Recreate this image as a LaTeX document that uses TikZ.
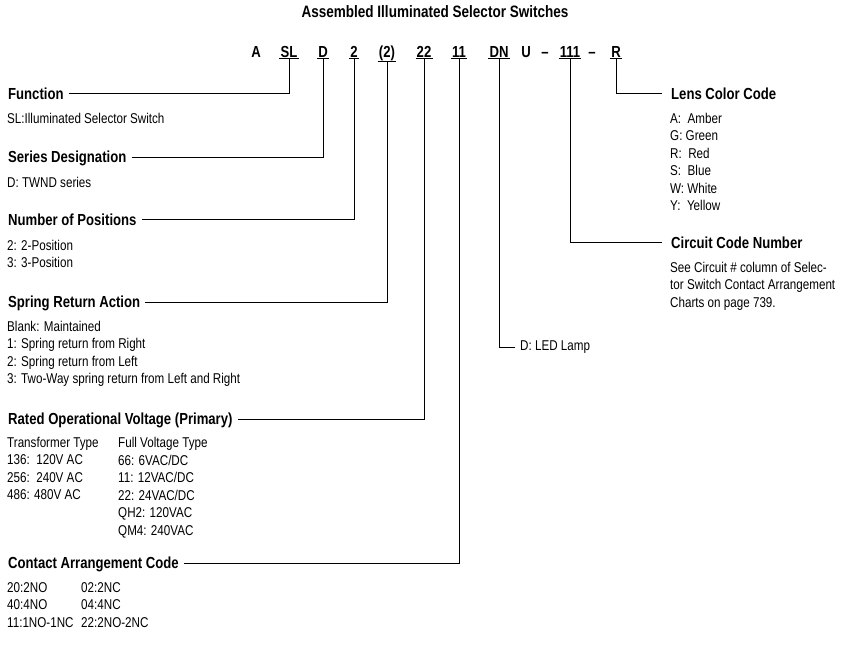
\documentclass[tikz,border=0pt]{standalone}
\usepackage{fontspec}
\setmainfont[FakeStretch=0.82]{Liberation Sans}
\usetikzlibrary{positioning}

\begin{document}
\begin{tikzpicture}[
    x=1pt, y=-1pt,
    code/.style={font=\bfseries\fontsize{16}{18}\selectfont, inner sep=1pt, anchor=base},
    head/.style={font=\bfseries\fontsize{16}{18}\selectfont, inner sep=1pt, anchor=base west},
    body/.style={font=\fontsize{14.2}{17.5}\selectfont, inner sep=0pt, anchor=north west, align=left},
    lead/.style={line width=0.9pt}
]
    \useasboundingbox (0,0) rectangle (850,648);

    % Title
    \node[code, font=\bfseries\fontsize{16.5}{18}\selectfont] (title) at (435,17) {Assembled Illuminated Selector Switches};

    % Code line
    \node[code] (a) at (256,57) {A};
    \node[code] (sl) at (289,57) {SL};
    \node[code] (d) at (323,57) {D};
    \node[code] (pos) at (354,57) {2};
    \node[code] (spr) at (387,57) {(2)};
    \node[code] (volt) at (424,57) {22};
    \node[code] (cont) at (459,57) {11};
    \node[code] (dn) at (499,57) {DN};
    \node[code] (u) at (526,57) {U};
    \node[code] (da) at (545,57) {--};
    \node[code] (circ) at (570,57) {111};
    \node[code] (db) at (592,57) {--};
    \node[code] (lens) at (616,57) {R};
    \foreach \n in {sl, d, pos, spr, volt, cont, dn, circ, lens}
        \draw[lead] (\n.south west) -- (\n.south east);

    % Left side
    \node[head] (fn) at (7,99) {Function};
    \node[body] (fnb) at (7,113) {SL:Illuminated Selector Switch};

    \node[head] (ser) at (7,162) {Series Designation};
    \node[body] (serb) at (7,177) {D: TWND series};

    \node[head] (num) at (7,225) {Number of Positions};
    \node[body] (numb) at (7,240) {2: 2-Position\\3: 3-Position};

    \node[head] (sra) at (7,307) {Spring Return Action};
    \node[body] (srab) at (7,321) {Blank: Maintained\\1: Spring return from Right\\2: Spring return from Left\\3: Two-Way spring return from Left and Right};

    \node[head] (rov) at (7,424) {Rated Operational Voltage (Primary)};
    \node[body] (rovt) at (7,437) {Transformer Type\\136:\ \ 120V AC\\256:\ \ 240V AC\\486: 480V AC};
    \node[body] (rovf) at (118,437) {Full Voltage Type\\66: 6VAC/DC\\11: 12VAC/DC\\22: 24VAC/DC\\QH2: 120VAC\\QM4: 240VAC};

    \node[head] (cac) at (7,568) {Contact Arrangement Code};
    \node[body] (caca) at (7,582) {20:2NO\\40:4NO\\11:1NO-1NC};
    \node[body] (cacb) at (81,582) {02:2NC\\04:4NC\\22:2NO-2NC};

    % Right side
    \node[head] (lcc) at (670,99) {Lens Color Code};
    \node[body] (lccb) at (670,113) {A:\ \ Amber\\G:\ Green\\R:\ \ Red\\S:\ \ Blue\\W: White\\Y:\ \ Yellow};

    \node[head] (ccn) at (670,248) {Circuit Code Number};
    \node[body] (ccnb) at (670,262) {See Circuit \# column of Selec-\\tor Switch Contact Arrangement\\Charts on page 739.};

    \node[body, anchor=west] (led) at (520,347) {D: LED Lamp};

    % Leaders
    \draw[lead] ([xshift=4pt]fn.east) -| (sl.south);
    \draw[lead] ([xshift=4pt]ser.east) -| (d.south);
    \draw[lead] ([xshift=4pt]num.east) -| (pos.south);
    \draw[lead] ([xshift=4pt]sra.east) -| (spr.south);
    \draw[lead] ([xshift=4pt]rov.east) -| (volt.south);
    \draw[lead] ([xshift=4pt]cac.east) -| (cont.south);
    \draw[lead] ([xshift=-5pt]led.west) -| (dn.south);
    \draw[lead] ([xshift=-8pt]ccn.west) -| (circ.south);
    \draw[lead] ([xshift=-8pt]lcc.west) -| (lens.south);
\end{tikzpicture}
\end{document}
